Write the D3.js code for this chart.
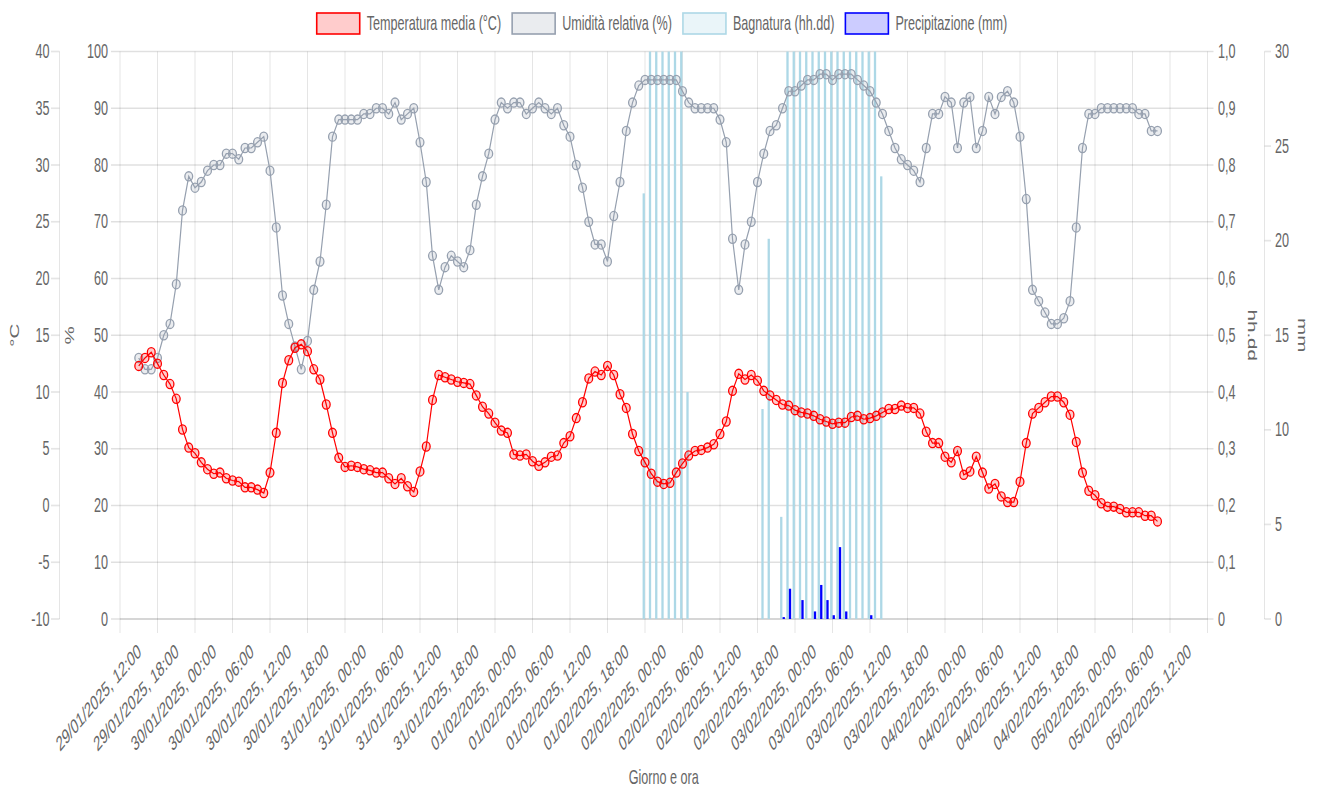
<!DOCTYPE html>
<html>
<head>
<meta charset="utf-8">
<script src="https://cdnjs.cloudflare.com/ajax/libs/d3/7.8.5/d3.min.js"></script>
<style>
  body { margin: 0; background: #fff; }
  svg text { font-family: "Liberation Sans", Arial, Helvetica, sans-serif; font-size: 12px; fill: #666; }
</style>
</head>
<body>
<svg id="chart" width="1328" height="789"></svg>
<script>
// hourly readings, first one at 29/01/2025 12:00
var startTime = new Date(2025, 0, 29, 12, 0);

var temperature = [
  12.3, 13.0, 13.5, 12.5, 11.5, 10.7, 9.4, 6.7, 5.1, 4.6,
  3.8, 3.2, 2.8, 2.9, 2.4, 2.2, 2.1, 1.6, 1.6, 1.4,
  1.1, 2.9, 6.4, 10.8, 12.8, 13.9, 14.2, 13.6, 12.0, 11.1,
  8.9, 6.4, 4.2, 3.4, 3.5, 3.4, 3.2, 3.1, 2.9, 2.9,
  2.4, 1.9, 2.4, 1.7, 1.2, 3.0, 5.2, 9.3, 11.5, 11.3,
  11.1, 10.9, 10.8, 10.7, 9.7, 8.7, 8.1, 7.3, 6.6, 6.4,
  4.5, 4.4, 4.5, 3.9, 3.5, 3.8, 4.3, 4.4, 5.5, 6.1,
  7.7, 9.1, 11.2, 11.8, 11.5, 12.3, 11.5, 9.8, 8.6, 6.3,
  4.8, 3.8, 2.8, 2.1, 1.9, 2.0, 2.9, 3.7, 4.4, 4.8,
  4.9, 5.1, 5.4, 6.3, 7.4, 10.1, 11.6, 11.1, 11.5, 11.0,
  10.1, 9.7, 9.3, 8.9, 8.8, 8.4, 8.2, 8.1, 7.9, 7.6,
  7.4, 7.2, 7.3, 7.3, 7.8, 7.9, 7.6, 7.7, 7.9, 8.2,
  8.5, 8.5, 8.8, 8.6, 8.6, 8.1, 6.5, 5.5, 5.5, 4.3,
  3.8, 4.8, 2.7, 3.0, 4.3, 2.9, 1.5, 1.9, 0.8, 0.3,
  0.3, 2.1, 5.5, 8.1, 8.6, 9.1, 9.6, 9.6, 9.1, 8.0,
  5.6, 2.9, 1.3, 0.9, 0.2, -0.1, -0.1, -0.3, -0.6, -0.6,
  -0.6, -0.9, -0.9, -1.4
];

var humidity = [
  46, 44, 44, 46, 50, 52, 59, 72, 78, 76,
  77, 79, 80, 80, 82, 82, 81, 83, 83, 84,
  85, 79, 69, 57, 52, 48, 44, 49, 58, 63,
  73, 85, 88, 88, 88, 88, 89, 89, 90, 90,
  89, 91, 88, 89, 90, 84, 77, 64, 58, 62,
  64, 63, 62, 65, 73, 78, 82, 88, 91, 90,
  91, 91, 89, 90, 91, 90, 89, 90, 87, 85,
  80, 76, 70, 66, 66, 63, 71, 77, 86, 91,
  94, 95, 95, 95, 95, 95, 95, 93, 91, 90,
  90, 90, 90, 88, 84, 67, 58, 66, 70, 77,
  82, 86, 87, 90, 93, 93, 94, 95, 95, 96,
  96, 95, 96, 96, 96, 95, 94, 93, 91, 89,
  86, 83, 81, 80, 79, 77, 83, 89, 89, 92,
  91, 83, 91, 92, 83, 86, 92, 89, 92, 93,
  91, 85, 74, 58, 56, 54, 52, 52, 53, 56,
  69, 83, 89, 89, 90, 90, 90, 90, 90, 90,
  89, 89, 86, 86
];

// leaf wetness, hh.dd
var wetness = [
  0, 0, 0, 0, 0, 0, 0, 0, 0, 0, 0, 0, 0, 0, 0, 0, 0, 0, 0, 0,
  0, 0, 0, 0, 0, 0, 0, 0, 0, 0, 0, 0, 0, 0, 0, 0, 0, 0, 0, 0,
  0, 0, 0, 0, 0, 0, 0, 0, 0, 0, 0, 0, 0, 0, 0, 0, 0, 0, 0, 0,
  0, 0, 0, 0, 0, 0, 0, 0, 0, 0, 0, 0, 0, 0, 0, 0, 0, 0, 0, 0,
  0, 0.75, 1, 1, 1, 1, 1, 1, 0.4, 0, 0, 0, 0, 0, 0, 0, 0, 0, 0, 0,
  0.37, 0.67, 0, 0.18, 1, 1, 1, 1, 1, 1, 1, 1, 1, 1, 1, 1, 1, 1, 1, 0.78,
  0, 0, 0, 0, 0, 0, 0, 0, 0, 0, 0, 0, 0, 0, 0, 0, 0, 0, 0, 0,
  0, 0, 0, 0, 0, 0, 0, 0, 0, 0, 0, 0, 0, 0, 0, 0, 0, 0, 0, 0,
  0, 0, 0, 0
];

// rain, mm
var rain = [
  0, 0, 0, 0, 0, 0, 0, 0, 0, 0, 0, 0, 0, 0, 0, 0, 0, 0, 0, 0,
  0, 0, 0, 0, 0, 0, 0, 0, 0, 0, 0, 0, 0, 0, 0, 0, 0, 0, 0, 0,
  0, 0, 0, 0, 0, 0, 0, 0, 0, 0, 0, 0, 0, 0, 0, 0, 0, 0, 0, 0,
  0, 0, 0, 0, 0, 0, 0, 0, 0, 0, 0, 0, 0, 0, 0, 0, 0, 0, 0, 0,
  0, 0, 0, 0, 0, 0, 0, 0, 0, 0, 0, 0, 0, 0, 0, 0, 0, 0, 0, 0,
  0, 0, 0, 0.1, 1.6, 0, 1.0, 0, 0.4, 1.8, 1.0, 0.2, 3.8, 0.4, 0, 0, 0, 0.2, 0, 0,
  0, 0, 0, 0, 0, 0, 0, 0, 0, 0, 0, 0, 0, 0, 0, 0, 0, 0, 0, 0,
  0, 0, 0, 0, 0, 0, 0, 0, 0, 0, 0, 0, 0, 0, 0, 0, 0, 0, 0, 0,
  0, 0, 0, 0
];

var legendLabels = ['Temperatura media (°C)', 'Umidità relativa (%)', 'Bagnatura (hh.dd)', 'Precipitazione (mm)'];
var tempTicks = [-10, -5, 0, 5, 10, 15, 20, 25, 30, 35, 40];
var humTicks = [0, 10, 20, 30, 40, 50, 60, 70, 80, 90, 100];
var wetTicks = [0, 0.1, 0.2, 0.3, 0.4, 0.5, 0.6, 0.7, 0.8, 0.9, 1.0];
var mmTicks = [0, 5, 10, 15, 20, 25, 30];
var firstLabel = new Date(2025, 0, 29, 12, 0);
var lastLabel = new Date(2025, 1, 5, 12, 0);

var colors = {
  temp: 'rgb(255, 0, 0)', tempFill: 'rgba(255, 0, 0, 0.2)',
  hum: 'rgb(150, 160, 175)', humFill: 'rgba(150, 160, 175, 0.2)',
  wet: 'rgb(173, 216, 230)', wetFill: 'rgba(173, 216, 230, 0.25)',
  rain: 'rgb(0, 0, 255)', rainFill: 'rgba(0, 0, 255, 0.2)',
  grid: 'rgba(0, 0, 0, 0.1)'
};

(function () {
  // the picture is a stretched canvas: text and marks are scaled this way
  var SX = 1.05, SY = 1.72;
  var pLeft = 120, pRight = 1207.5, pTop = 51.5, pBottom = 619;

  var times = temperature.map(function (d, i) { return d3.timeHour.offset(startTime, i); });

  var x = d3.scaleTime()
    .domain([d3.timeHour.offset(firstLabel, -3), d3.timeHour.offset(lastLabel, 3)])
    .range([pLeft, pRight]);
  var yTemp = d3.scaleLinear().domain([-10, 40]).range([pBottom, pTop]);
  var yHum = d3.scaleLinear().domain([0, 100]).range([pBottom, pTop]);
  var yWet = d3.scaleLinear().domain([0, 1]).range([pBottom, pTop]);
  var yMm = d3.scaleLinear().domain([0, 30]).range([pBottom, pTop]);

  var svg = d3.select('#chart');

  function addText(g, px, py, str, anchor, angle) {
    var tf = 'translate(' + px + ',' + py + ') scale(' + SX + ',' + SY + ')';
    if (angle) { tf += ' rotate(' + angle + ')'; }
    return g.append('text')
      .attr('transform', tf)
      .attr('text-anchor', anchor || 'start')
      .attr('dominant-baseline', 'central')
      .text(str);
  }

  function hline(g, x1, x2, py, w, c) {
    g.append('line').attr('x1', x1).attr('x2', x2).attr('y1', py).attr('y2', py)
      .attr('stroke', c || colors.grid).attr('stroke-width', w || SY);
  }
  function vline(g, px, y1, y2, w, c) {
    g.append('line').attr('x1', px).attr('x2', px).attr('y1', y1).attr('y2', y2)
      .attr('stroke', c || colors.grid).attr('stroke-width', w || SX);
  }

  // grid
  var grid = svg.append('g');
  var gridTimes = d3.timeHour.range(x.domain()[0], d3.timeHour.offset(x.domain()[1], 1), 6);
  gridTimes.forEach(function (t) { vline(grid, x(t), pTop, pBottom + 14); });
  humTicks.forEach(function (v) { hline(grid, pLeft - 9, pRight + 6, yHum(v), SY, 'rgba(0,0,0,0.12)'); });

  // outer axes: °C on the left, mm on the right
  var axes = svg.append('g');
  vline(axes, 59.5, pTop, pBottom);
  tempTicks.forEach(function (v) {
    hline(axes, 51, 59.5, yTemp(v));
    addText(axes, 49.5, yTemp(v), String(v), 'end');
  });
  vline(axes, 1264.5, pTop, pBottom);
  mmTicks.forEach(function (v) {
    hline(axes, 1264.5, 1271, yMm(v));
    addText(axes, 1275, yMm(v), String(v), 'start');
  });
  humTicks.forEach(function (v) { addText(axes, 108, yHum(v), String(v), 'end'); });
  wetTicks.forEach(function (v) {
    var s = v === 0 ? '0' : v.toFixed(1).replace('.', ',');
    addText(axes, 1218, yWet(v), s, 'start');
  });
  hline(axes, pLeft, pRight, pBottom, SY, 'rgba(0,0,0,0.1)');

  addText(axes, 15, (pTop + pBottom) / 2, '°C', 'middle', -90);
  addText(axes, 70, (pTop + pBottom) / 2, '%', 'middle', -90);
  addText(axes, 1252, (pTop + pBottom) / 2, 'hh.dd', 'middle', 90);
  addText(axes, 1302, (pTop + pBottom) / 2, 'mm', 'middle', 90);

  // x labels
  var fmt = d3.timeFormat('%d/%m/%Y, %H:%M');
  d3.timeHour.range(firstLabel, d3.timeHour.offset(lastLabel, 1), 6).forEach(function (t) {
    addText(axes, x(t) + 1, 649, fmt(t), 'end', -36);
  });
  addText(axes, (pLeft + pRight) / 2, 777, 'Giorno e ora', 'middle');

  // bars: wetness and rain share each hourly slot
  var bw = 2.3, off = 1.25;
  var bars = svg.append('g');
  wetness.forEach(function (v, i) {
    if (v <= 0) { return; }
    bars.append('rect')
      .attr('x', x(times[i]) - off - bw / 2).attr('width', bw)
      .attr('y', yWet(v)).attr('height', pBottom - yWet(v))
      .attr('fill', colors.wet);
  });
  rain.forEach(function (v, i) {
    if (v <= 0) { return; }
    bars.append('rect')
      .attr('x', x(times[i]) + off - bw / 2).attr('width', bw)
      .attr('y', yMm(v)).attr('height', pBottom - yMm(v))
      .attr('fill', colors.rain);
  });

  // lines with hollow points
  function drawSeries(values, yScale, stroke, fill) {
    var g = svg.append('g');
    var line = d3.line()
      .x(function (d, i) { return x(times[i]); })
      .y(function (d) { return yScale(d); });
    g.append('path').datum(values).attr('d', line)
      .attr('fill', 'none').attr('stroke', stroke).attr('stroke-width', 1.2);
    g.selectAll('ellipse').data(values).enter().append('ellipse')
      .attr('cx', function (d, i) { return x(times[i]); })
      .attr('cy', function (d) { return yScale(d); })
      .attr('rx', 3.9).attr('ry', 4.6)
      .attr('fill', fill).attr('stroke', stroke).attr('stroke-width', 1.3);
  }
  drawSeries(humidity, yHum, colors.hum, colors.humFill);
  drawSeries(temperature, yTemp, colors.temp, colors.tempFill);

  // legend
  var legend = svg.append('g');
  var items = [
    { label: legendLabels[0], stroke: colors.temp, fill: colors.tempFill },
    { label: legendLabels[1], stroke: colors.hum, fill: colors.humFill },
    { label: legendLabels[2], stroke: colors.wet, fill: colors.wetFill },
    { label: legendLabels[3], stroke: colors.rain, fill: colors.rainFill }
  ];
  var boxW = 43, boxH = 21, gap = 7, pad = 11;
  var widths = items.map(function (it) {
    var t = addText(legend, 0, -100, it.label, 'start');
    var w = t.node().getComputedTextLength() * SX;
    t.remove();
    return boxW + gap + w;
  });
  var total = d3.sum(widths) + pad * (items.length - 1);
  var lx = 662 - total / 2;
  items.forEach(function (it, i) {
    legend.append('rect').attr('x', lx).attr('y', 13).attr('width', boxW).attr('height', boxH)
      .attr('fill', it.fill).attr('stroke', it.stroke).attr('stroke-width', 1.6);
    addText(legend, lx + boxW + gap, 23.5, it.label, 'start');
    lx += widths[i] + pad;
  });
})();
</script>
</body>
</html>
